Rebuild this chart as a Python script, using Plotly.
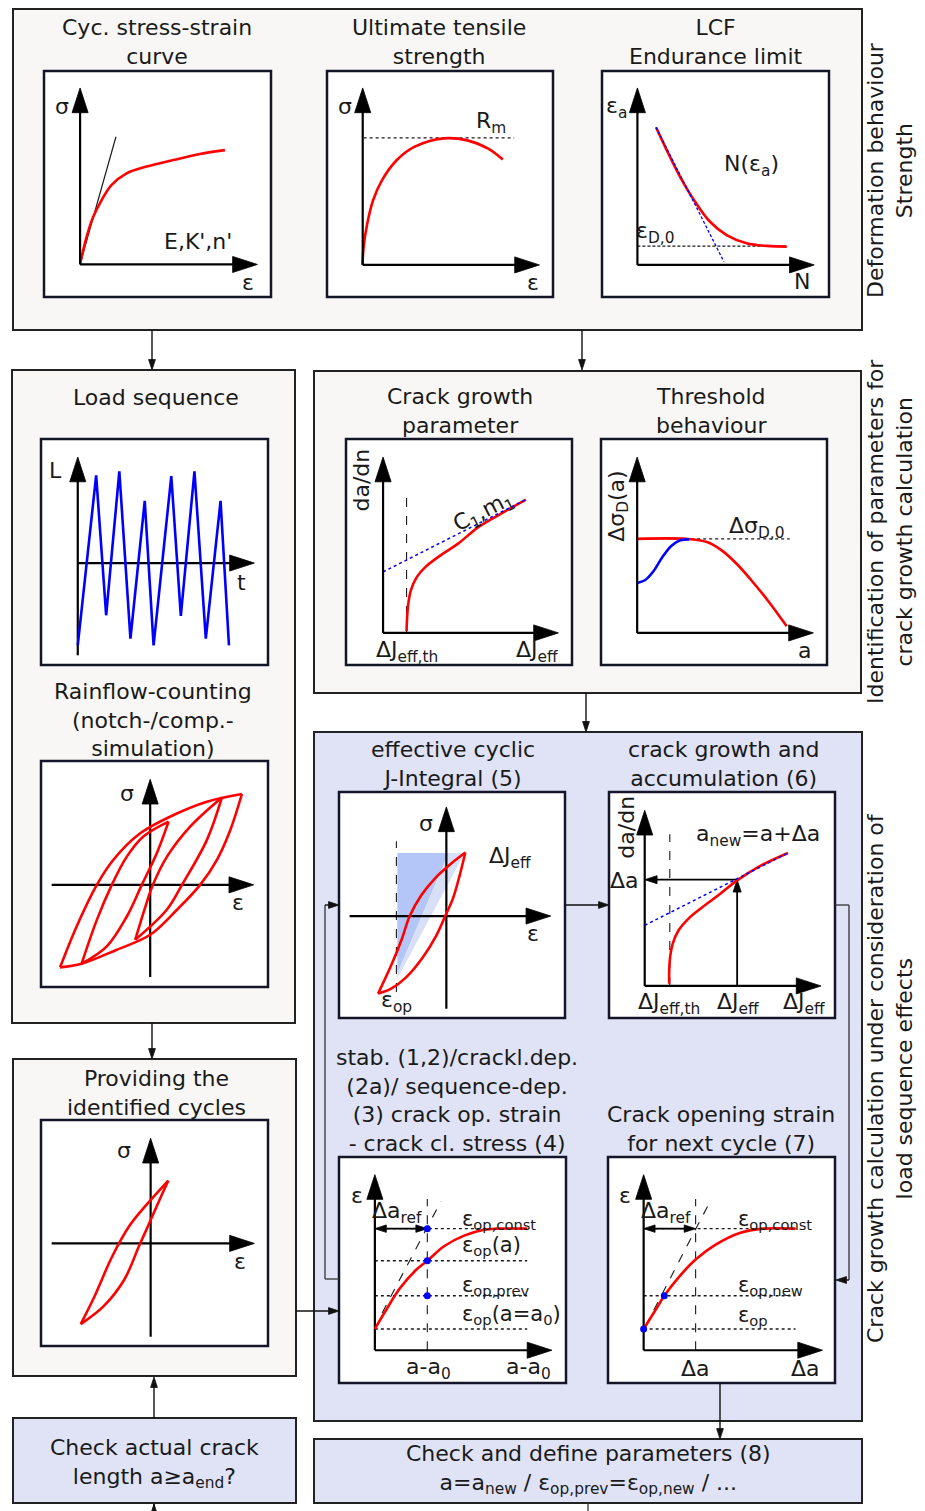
import plotly.graph_objects as go

W, H = 925, 1511
FONT = "DejaVu Sans"
INK = "#1a1a1a"
RED = "#ff0000"
BLUE = "#0000ff"
OFFWHITE = "#f8f7f5"
LAVENDER = "#dfe3f5"

# ---------------- curve data (panel units, 0..100) ----------------
# Cyc. stress-strain curve
css_x = [15.9, 18.8, 21.7, 25.4, 29.8, 36.4, 45.2, 57.0, 68.7, 79.7]
css_y = [14.6, 26.7, 35.5, 42.9, 49.6, 54.7, 57.7, 60.6, 63.3, 65.0]
css_tan_x = [15.9, 31.7]
css_tan_y = [14.6, 70.9]
# Ultimate tensile strength
uts_x = [15.7, 16.2, 17.8, 20.4, 24.3, 30.8, 38.6, 51.7, 62.1, 71.3, 77.8]
uts_y = [14.3, 22.1, 32.4, 42.8, 51.6, 60.5, 66.4, 70.2, 69.3, 65.6, 60.8]
uts_rm_x = [16.2, 82.8]
uts_rm_y = [70.4, 70.4]
# LCF endurance limit
lcf_x = [23.8, 28.5, 34.4, 41.0, 47.6, 54.9, 63.7, 72.6, 81.4]
lcf_y = [75.1, 65.0, 53.2, 42.2, 33.3, 27.4, 23.8, 22.6, 22.3]
lcf_basq_x = [23.8, 53.7]
lcf_basq_y = [75.1, 15.6]
lcf_lim_x = [15.6, 81.4]
lcf_lim_y = [22.5, 22.5]
# Load sequence
load_x = [16.2, 24.3, 28.7, 34.5, 39.4, 45.7, 49.6, 57.4, 61.6, 67.6, 72.6, 79.1, 82.8]
load_y = [8.7, 83.9, 22.0, 85.7, 11.7, 72.6, 8.7, 83.6, 21.7, 85.7, 11.7, 72.6, 8.7]
# Crack growth parameter
cgp_x = [26.8, 27.4, 28.7, 31.3, 35.2, 41.8, 49.6, 58.7, 69.2, 79.6]
cgp_y = [15.0, 25.7, 33.0, 38.9, 43.4, 48.5, 53.7, 61.1, 67.3, 73.2]
cgp_fit_x = [16.4, 79.6]
cgp_fit_y = [41.2, 73.2]
cgp_th_x = [26.8, 26.8]
cgp_th_y = [14.2, 77.9]
# Threshold behaviour
thr_red_x = [16.0, 37.7, 46.9, 53.4, 60.0, 66.5, 74.3, 82.2]
thr_red_y = [55.8, 55.8, 54.4, 50.7, 44.8, 37.5, 27.9, 17.1]
thr_blue_x = [16.0, 19.4, 23.3, 27.2, 31.2, 35.1, 39.0]
thr_blue_y = [36.3, 37.5, 41.6, 47.8, 52.8, 55.2, 55.6]
thr_lim_x = [16.0, 83.5]
thr_lim_y = [55.8, 55.8]
# Rainflow counting hysteresis loops
rf_big_up_x = [8.4, 15.7, 24.6, 31.9, 43.7, 58.4, 73.1, 88.5]
rf_big_up_y = [8.7, 26.8, 45.2, 56.3, 68.0, 76.1, 82.0, 85.4]
rf_big_lo_x = [88.5, 83.4, 77.5, 70.1, 59.9, 48.1, 33.4, 17.9, 8.4]
rf_big_lo_y = [85.4, 69.5, 56.3, 45.2, 34.2, 23.1, 16.5, 10.3, 8.7]
rf_l_a_x = [17.9, 24.6, 31.2, 37.8, 45.1, 56.2]
rf_l_a_y = [10.3, 29.7, 45.2, 57.7, 66.6, 73.2]
rf_l_b_x = [56.2, 51.0, 44.4, 37.8, 29.0, 17.9]
rf_l_b_y = [73.2, 59.2, 45.2, 31.2, 18.0, 10.3]
rf_r_a_x = [41.5, 46.0, 49.3, 55.5, 65.7, 79.7]
rf_r_a_y = [20.9, 35.6, 45.2, 57.7, 71.0, 83.9]
rf_r_b_x = [79.7, 73.1, 62.1, 55.4, 41.5]
rf_r_b_y = [83.9, 65.1, 45.2, 34.2, 20.9]
# Providing the identified cycles
pc_up_x = [17.5, 23.5, 31.3, 39.2, 47.0, 56.1]
pc_up_y = [9.7, 21.8, 39.5, 53.5, 63.1, 73.2]
pc_lo_x = [56.1, 52.2, 47.0, 43.1, 36.6, 27.4, 17.5]
pc_lo_y = [73.2, 64.6, 52.8, 44.0, 29.2, 17.4, 9.7]
# effective cyclic J-integral
ji_up_x = [17.3, 23.1, 27.6, 31.3, 36.4, 42.3, 49.0, 55.9]
ji_up_y = [10.8, 23.3, 34.4, 45.1, 54.3, 61.6, 67.8, 73.2]
ji_lo_x = [55.9, 53.4, 50.4, 47.0, 43.1, 37.2, 29.8, 23.1, 17.3]
ji_lo_y = [73.2, 63.1, 52.8, 45.1, 36.6, 27.0, 18.1, 13.0, 10.8]
ji_dark_x = [25.8, 48.5, 25.8]
ji_dark_y = [73.0, 73.0, 19.6]
ji_light_x = [48.5, 55.6, 25.8, 25.8]
ji_light_y = [73.0, 73.0, 17.4, 19.6]
ji_op_x = [25.4, 25.4]
ji_op_y = [11.5, 78.2]
# crack growth and accumulation
acc_x = [26.6, 26.9, 28.2, 30.8, 35.2, 41.4, 48.4, 56.7, 66.0, 79.2]
acc_y = [15.2, 25.5, 32.9, 38.8, 44.0, 49.1, 54.3, 60.9, 66.8, 73.0]
acc_fit_x = [15.8, 79.2]
acc_fit_y = [41.0, 73.0]
acc_th_x = [26.9, 26.9]
acc_th_y = [14.2, 81.3]
# crack opening strain (stab./crackl.dep./sequence-dep.)
st_x = [15.8, 20.8, 26.9, 34.0, 38.9, 46.3, 55.1, 63.9, 69.2, 82.9]
st_y = [23.9, 32.4, 42.0, 50.1, 54.1, 60.5, 65.2, 67.8, 68.3, 68.3]
st_levels = [68.3, 54.1, 38.6, 23.9]
st_pts_x = [38.9, 38.9, 38.9]
st_pts_y = [68.3, 54.1, 38.6]
st_tan_x = [19.0, 44.9]
st_tan_y = [31.0, 80.4]
# Crack opening strain for next cycle
nx_x = [15.7, 21.0, 24.8, 31.5, 38.6, 47.4, 58.0, 68.5, 82.6]
nx_y = [23.9, 32.4, 38.6, 47.2, 54.6, 61.2, 66.4, 68.3, 68.3]
nx_levels = [68.3, 38.6, 23.9]
nx_pts_x = [15.7, 24.8]
nx_pts_y = [23.9, 38.6]
nx_tan_x = [16.5, 45.0]
nx_tan_y = [25.1, 80.4]

# ---------------- layout geometry (pixels) ----------------
PANELS = {
    'css': (44, 71, 271, 297), 'uts': (327, 71, 553, 297), 'lcf': (602, 71, 829, 297),
    'load': (41, 439, 268, 665), 'cgp': (346, 439, 572, 665), 'thr': (601, 439, 827, 665),
    'rain': (41, 761, 268, 987), 'prov': (41, 1120, 268, 1346),
    'jint': (339, 792, 565, 1018), 'acc': (609, 792, 835, 1018),
    'stab': (339, 1157, 566, 1383), 'next': (608, 1157, 835, 1383),
}
BOXES = [
    (13, 9, 862, 330, OFFWHITE), (12, 370, 295, 1023, OFFWHITE),
    (314, 371, 861, 693, OFFWHITE), (13, 1059, 296, 1376, OFFWHITE),
    (314, 732, 862, 1421, LAVENDER), (13, 1418, 296, 1503, LAVENDER),
    (314, 1439, 862, 1503, LAVENDER),
]

fig = go.Figure()
fig.add_trace(go.Scatter(x=[0], y=[0], mode='markers', marker=dict(opacity=0),
                         hoverinfo='skip', showlegend=False))
layout_axes = {
    'xaxis': dict(domain=[0, 1], range=[0, W], visible=False, fixedrange=True),
    'yaxis': dict(domain=[0, 1], range=[H, 0], visible=False, fixedrange=True),
}
IDX = {}
for k, (name, (x0, y0, x1, y1)) in enumerate(PANELS.items()):
    i = k + 2
    IDX[name] = i
    layout_axes[f'xaxis{i}'] = dict(domain=[x0 / W, x1 / W], range=[0, 100], visible=False,
                                    fixedrange=True, anchor=f'y{i}')
    layout_axes[f'yaxis{i}'] = dict(domain=[1 - y1 / H, 1 - y0 / H], range=[0, 100], visible=False,
                                    fixedrange=True, anchor=f'x{i}')

shapes = []
for (x0, y0, x1, y1, col) in BOXES:
    shapes.append(dict(type='rect', xref='x', yref='y', x0=x0, y0=y0, x1=x1, y1=y1,
                       fillcolor=col, line=dict(color='#222222', width=2), layer='below'))
for (x0, y0, x1, y1) in PANELS.values():
    shapes.append(dict(type='rect', xref='x', yref='y', x0=x0, y0=y0, x1=x1, y1=y1,
                       fillcolor='white', line=dict(color='#15152a', width=2.5), layer='below'))
# loop-back lines
for (xa, ya, xb, yb) in [(835, 905, 849, 905), (849, 905, 849, 1280),
                         (339, 1279, 325, 1279), (325, 1279, 325, 905), (588, 1503, 588, 1511)]:
    shapes.append(dict(type='line', xref='x', yref='y', x0=xa, y0=ya, x1=xb, y1=yb,
                       line=dict(color='#333333', width=1.3), layer='below'))


def refs(p):
    if p is None:
        return 'x', 'y'
    i = IDX[p]
    return f'x{i}', f'y{i}'


def line(p, xs, ys, color=RED, width=2.6, dash=None, shape='spline', mode='lines'):
    xr, yr = refs(p)
    fig.add_trace(go.Scatter(x=xs, y=ys, mode=mode, xaxis=xr, yaxis=yr,
                             line=dict(color=color, width=width, dash=dash, shape=shape,
                                       smoothing=1.0 if shape == 'spline' else None),
                             hoverinfo='skip', showlegend=False))


def poly(p, xs, ys, color):
    xr, yr = refs(p)
    fig.add_trace(go.Scatter(x=xs, y=ys, mode='lines', fill='toself', fillcolor=color,
                             xaxis=xr, yaxis=yr, line=dict(width=0, color=color),
                             hoverinfo='skip', showlegend=False))


def dots(p, xs, ys):
    xr, yr = refs(p)
    fig.add_trace(go.Scatter(x=xs, y=ys, mode='markers', xaxis=xr, yaxis=yr,
                             marker=dict(color=BLUE, size=7), hoverinfo='skip', showlegend=False))


def arrow(p, tail, tip, width=2.2, head=26, color='#000000'):
    """Straight arrow from tail to tip, head drawn as an oriented 'arrow' marker."""
    xr, yr = refs(p)
    fig.add_trace(go.Scatter(x=[tail[0], tip[0]], y=[tail[1], tip[1]], mode='lines+markers',
                             xaxis=xr, yaxis=yr, line=dict(color=color, width=width),
                             marker=dict(symbol=['circle', 'arrow'], size=[0, head], color=color,
                                         opacity=1, angleref='previous',
                                         line=dict(width=0.8, color=color)),
                             hoverinfo='skip', showlegend=False))


def text(xref, yref, x, y, s, size=22, xanchor='center', yanchor='middle', angle=0):
    fig.add_annotation(x=x, y=y, xref=xref, yref=yref, text=s, showarrow=False,
                       font=dict(family=FONT, size=size, color=INK), xanchor=xanchor,
                       yanchor=yanchor, align='center', textangle=angle)


def lab(p, x, y, s, size=22, xanchor='center', angle=0):
    xr, yr = refs(p)
    text(xr, yr, x, y, s, size=size, xanchor=xanchor, angle=angle)


def axes(p, ox, oy, xtip, ytip, xstart=None, ystart=None):
    xs = ox if xstart is None else xstart
    ys = oy if ystart is None else ystart
    arrow(p, (ox, ys), (ox, ytip))
    arrow(p, (xs, oy), (xtip, oy))


# ---- Cyc. stress-strain curve
line('css', css_tan_x, css_tan_y, color=INK, width=1.2, shape='linear')
line('css', css_x, css_y)
axes('css', 15.9, 14.4, 94, 92.5)
lab('css', 7.8, 84.2, 'σ')
lab('css', 90, 6.3, 'ε')
lab('css', 68, 24.5, "E,K',n'")
# ---- Ultimate tensile strength
line('uts', uts_rm_x, uts_rm_y, color=INK, width=1.3, dash='dot', shape='linear')
line('uts', uts_x, uts_y)
axes('uts', 15.8, 14.2, 94, 92.5)
lab('uts', 8, 84.5, 'σ')
lab('uts', 91, 6.5, 'ε')
lab('uts', 72.5, 77, 'R<sub>m</sub>')
# ---- LCF
line('lcf', lcf_lim_x, lcf_lim_y, color=INK, width=1.3, dash='3px,2px', shape='linear')
line('lcf', lcf_x, lcf_y)
line('lcf', lcf_basq_x, lcf_basq_y, color=BLUE, width=1.3, dash='3px,2px', shape='linear')
axes('lcf', 15.6, 14.2, 93.5, 92.5)
lab('lcf', 6.5, 84, 'ε<sub>a</sub>')
lab('lcf', 66, 58, 'N(ε<sub>a</sub>)')
lab('lcf', 23.5, 28.5, 'ε<sub>D,0</sub>')
lab('lcf', 88, 6.8, 'N')
# ---- Load sequence
axes('load', 16.2, 45.1, 94, 92, ystart=4.3)
line('load', load_x, load_y, color=BLUE, width=2.6, shape='linear')
lab('load', 6.5, 86, 'L')
lab('load', 88.5, 36.5, 't')
# ---- Crack growth parameter
line('cgp', cgp_th_x, cgp_th_y, color=INK, width=1.1, dash='dash', shape='linear')
line('cgp', cgp_x, cgp_y)
line('cgp', cgp_fit_x, cgp_fit_y, color=BLUE, width=1.5, dash='dot', shape='linear')
axes('cgp', 16.4, 14.2, 94, 92)
lab('cgp', 7, 82, 'da/dn', angle=-90)
lab('cgp', 61, 67.5, 'C<sub>1</sub>,m<sub>1</sub>', angle=-27)
lab('cgp', 27, 6, 'ΔJ<sub>eff,th</sub>')
lab('cgp', 84.5, 6, 'ΔJ<sub>eff</sub>')
# ---- Threshold behaviour
line('thr', thr_lim_x, thr_lim_y, color=INK, width=1.3, dash='dot', shape='linear')
line('thr', thr_red_x, thr_red_y)
line('thr', thr_blue_x, thr_blue_y, color=BLUE, width=2.6)
axes('thr', 16.0, 14.2, 94, 92)
lab('thr', 7.6, 70.5, 'Δσ<sub>D</sub>(a)', angle=-90)
lab('thr', 69, 61, 'Δσ<sub>D,0</sub>')
lab('thr', 90, 6.5, 'a')
# ---- Rainflow counting
axes('rain', 48.1, 45.2, 93.7, 91.9, xstart=4.7, ystart=4.4)
for xs, ys in [(rf_big_up_x, rf_big_up_y), (rf_big_lo_x, rf_big_lo_y),
               (rf_l_a_x, rf_l_a_y), (rf_l_b_x, rf_l_b_y),
               (rf_r_a_x, rf_r_a_y), (rf_r_b_x, rf_r_b_y)]:
    line('rain', xs, ys)
lab('rain', 37.8, 85.7, 'σ')
lab('rain', 87, 37.4, 'ε')
# ---- Providing the identified cycles
axes('prov', 48.3, 45.4, 94, 91.9, xstart=4.7, ystart=4.1)
line('prov', pc_up_x, pc_up_y)
line('prov', pc_lo_x, pc_lo_y)
lab('prov', 36.6, 86.7, 'σ')
lab('prov', 87.5, 37.5, 'ε')
# ---- effective cyclic J-integral
poly('jint', ji_dark_x, ji_dark_y, '#b3c6f7')
poly('jint', ji_light_x, ji_light_y, '#d8e0f8')
line('jint', ji_op_x, ji_op_y, color=INK, width=1.1, dash='dash', shape='linear')
axes('jint', 47.5, 45.1, 93.7, 93.4, xstart=4.7, ystart=4.1)
line('jint', ji_up_x, ji_up_y)
line('jint', ji_lo_x, ji_lo_y)
lab('jint', 38.6, 86, 'σ')
lab('jint', 85.8, 37.3, 'ε')
lab('jint', 75.5, 71.2, 'ΔJ<sub>eff</sub>')
lab('jint', 25.4, 7.1, 'ε<sub>op</sub>')
# ---- crack growth and accumulation
line('acc', acc_th_x, acc_th_y, color=INK, width=1.1, dash='dash', shape='linear')
axes('acc', 15.8, 14.2, 93.8, 91.9)
arrow('acc', (56.7, 61.2), (15.8, 61.2), width=1.8, head=13)
arrow('acc', (56.7, 14.2), (56.7, 61.2), width=1.8, head=13)
line('acc', acc_x, acc_y)
line('acc', acc_fit_x, acc_fit_y, color=BLUE, width=1.5, dash='dot', shape='linear')
lab('acc', 7.6, 84.3, 'da/dn', angle=-90)
lab('acc', 66, 80.8, 'a<sub>new</sub>=a+Δa')
lab('acc', 7, 61, 'Δa')
lab('acc', 26.4, 6.5, 'ΔJ<sub>eff,th</sub>')
lab('acc', 57.2, 6.5, 'ΔJ<sub>eff</sub>')
lab('acc', 86.3, 6.5, 'ΔJ<sub>eff</sub>')
# ---- crack opening strain (stab.)
for lv in st_levels:
    line('stab', [15.8, 82.9], [lv, lv], color=INK, width=1.3, dash='dot', shape='linear')
line('stab', [38.9, 38.9], [14.5, 81.4], color=INK, width=1.1, dash='dash', shape='linear')
line('stab', st_tan_x, st_tan_y, color=INK, width=1.1, dash='dash', shape='linear')
axes('stab', 15.8, 14.5, 93.8, 92.2)
arrow('stab', (27.3, 68.3), (15.8, 68.3), width=1.8, head=12)
arrow('stab', (27.3, 68.3), (38.9, 68.3), width=1.8, head=12)
line('stab', st_x, st_y)
dots('stab', st_pts_x, st_pts_y)
lab('stab', 7.9, 83, 'ε')
lab('stab', 25.5, 75.5, 'Δa<sub>ref</sub>')
lab('stab', 53.3, 72.3, 'ε<sub>op,const</sub>', size=21, xanchor='left')
lab('stab', 53.3, 60.5, 'ε<sub>op</sub>(a)', size=21, xanchor='left')
lab('stab', 53.3, 42.8, 'ε<sub>op,prev</sub>', size=21, xanchor='left')
lab('stab', 53.3, 30.2, 'ε<sub>op</sub>(a=a<sub>0</sub>)', size=21, xanchor='left')
lab('stab', 39.3, 6.6, 'a-a<sub>0</sub>')
lab('stab', 83.3, 6.6, 'a-a<sub>0</sub>')
# ---- crack opening strain for next cycle
for lv in nx_levels:
    line('next', [15.7, 82.6], [lv, lv], color=INK, width=1.3, dash='dot', shape='linear')
line('next', [38.6, 38.6], [14.5, 81.4], color=INK, width=1.1, dash='dash', shape='linear')
line('next', nx_tan_x, nx_tan_y, color=INK, width=1.1, dash='dash', shape='linear')
axes('next', 15.7, 14.5, 94.5, 92.2)
arrow('next', (27.1, 68.3), (15.7, 68.3), width=1.8, head=12)
arrow('next', (27.1, 68.3), (38.6, 68.3), width=1.8, head=12)
line('next', nx_x, nx_y)
dots('next', nx_pts_x, nx_pts_y)
lab('next', 7.7, 83, 'ε')
lab('next', 25.5, 75.5, 'Δa<sub>ref</sub>')
lab('next', 56.2, 72.3, 'ε<sub>op,const</sub>', size=21, xanchor='left')
lab('next', 56.2, 42.8, 'ε<sub>op,new</sub>', size=21, xanchor='left')
lab('next', 56.2, 29.5, 'ε<sub>op</sub>', size=21, xanchor='left')
lab('next', 38.6, 6.6, 'Δa')
lab('next', 87, 6.6, 'Δa')

# ---------------- titles & box texts (main pixel axes) ----------------
TITLES = [
    ('Cyc. stress-strain<br>curve', 157, 41.5),
    ('Ultimate tensile<br>strength', 439, 41.5),
    ('LCF<br>Endurance limit', 716, 41.5),
    ('Load sequence', 156, 397),
    ('Crack growth<br>parameter', 460, 411),
    ('Threshold<br>behaviour', 711, 411),
    ('Rainflow-counting<br>(notch-/comp.-<br>simulation)', 153, 720),
    ('effective cyclic<br>J-Integral (5)', 453, 763.5),
    ('crack growth and<br>accumulation (6)', 723, 763.5),
    ('Providing the<br>identified cycles', 156, 1092.5),
    ('stab. (1,2)/crackl.dep.<br>(2a)/ sequence-dep.<br>(3) crack op. strain<br>- crack cl. stress (4)', 457, 1100.5),
    ('Crack opening strain<br>for next cycle (7)', 721, 1128.5),
    ('Check actual crack<br>length a≥a<sub>end</sub>?', 154, 1463),
    ('Check and define parameters (8)<br>a=a<sub>new</sub> / ε<sub>op,prev</sub>=ε<sub>op,new</sub> / ...', 588, 1469),
]
for s, x, y in TITLES:
    text('x', 'y', x, y, s)

SIDE = [
    ('Deformation behaviour<br>Strength', 890, 170),
    ('Identification of parameters for<br>crack growth calculation', 890, 532),
    ('Crack growth calculation under consideration of<br>load sequence effects', 890, 1078),
]
for s, x, y in SIDE:
    text('x', 'y', x, y, s, angle=-90)

# ---------------- flow arrows (tail -> tip, pixel layout) ----------------
FLOW = [((152, 330), (152, 370)), ((582, 330), (582, 370)), ((152, 1023), (152, 1059)),
        ((154, 1418), (154, 1377)), ((154, 1511), (154, 1504)), ((586, 693), (586, 732)),
        ((296, 1311), (339, 1311)), ((565, 905), (609, 905)), ((849, 1280), (836, 1280)),
        ((325, 905), (339, 905)), ((720, 1383), (720, 1439))]
for tail, tip in FLOW:
    arrow(None, tail, tip, width=1.4, head=11, color='#111111')

fig.update_layout(
    width=W, height=H, margin=dict(l=0, r=0, t=0, b=0),
    paper_bgcolor='white', plot_bgcolor='rgba(0,0,0,0)',
    showlegend=False, shapes=shapes, **layout_axes,
)
fig.write_html("out.html", config={'displayModeBar': False, 'staticPlot': True},
               post_script="document.body.style.margin='0';document.body.style.overflow='hidden';")
